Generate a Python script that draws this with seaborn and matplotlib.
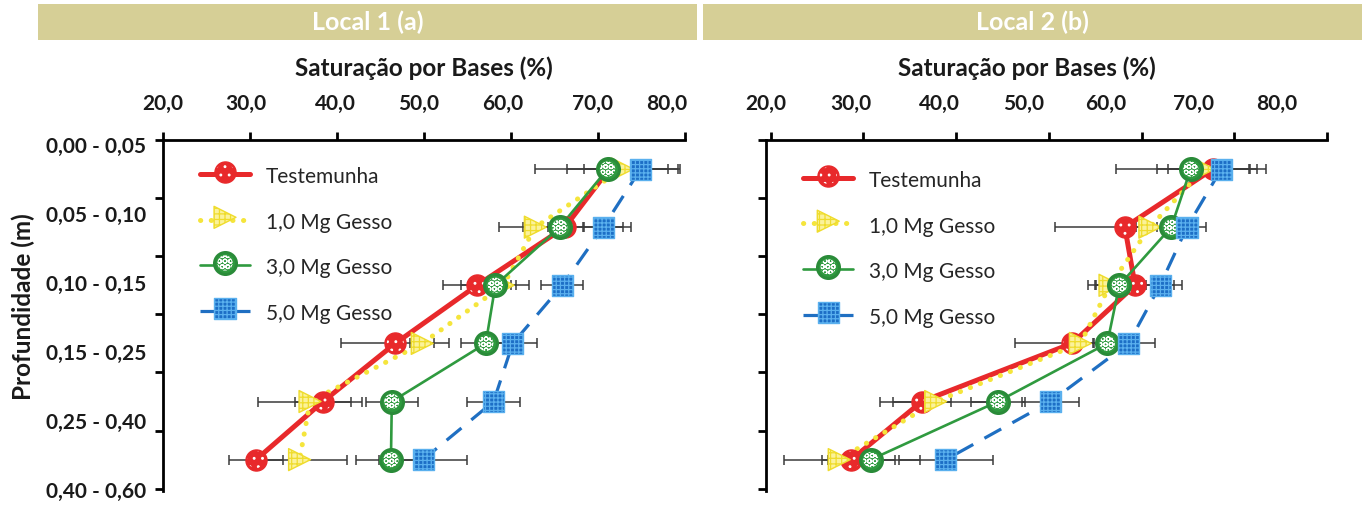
import matplotlib
matplotlib.use("Agg")
import matplotlib.pyplot as plt
from matplotlib.patches import Rectangle
from matplotlib.legend_handler import HandlerTuple
import seaborn as sns

# ---- data -------------------------------------------------------------
depth_labels = ["0,00 - 0,05", "0,05 - 0,10", "0,10 - 0,15",
                "0,15 - 0,25", "0,25 - 0,40", "0,40 - 0,60"]
series_names = ["Testemunha", "1,0 Mg Gesso", "3,0 Mg Gesso", "5,0 Mg Gesso"]
x_ticks = [20, 30, 40, 50, 60, 70, 80]
x_tick_labels = ["20,0", "30,0", "40,0", "50,0", "60,0", "70,0", "80,0"]
panel_titles = ["Local 1 (a)", "Local 2 (b)"]

# Local 1 - base saturation (%) per depth layer
local1_testemunha = [71.3, 66.2, 56.1, 46.7, 38.4, 30.7]
local1_gesso_1 = [72.8, 62.8, 59.1, 49.8, 36.9, 35.7]
local1_gesso_3 = [71.1, 65.6, 58.2, 57.1, 46.3, 46.2]
local1_gesso_5 = [74.9, 70.6, 65.9, 60.2, 58.0, 49.9]
local1_err_testemunha = [2.9, 7.6, 3.9, 6.2, 3.2, 3.1]
local1_err_gesso_1 = [6.4, 1.4, 1.5, 1.4, 6.0, 5.4]
local1_err_gesso_3 = [8.3, 2.8, 3.9, 2.9, 3.0, 4.0]
local1_err_gesso_5 = [3.1, 2.3, 2.4, 2.8, 3.0, 5.1]

# Local 2 - base saturation (%) per depth layer
local2_testemunha = [67.7, 58.2, 59.3, 52.5, 36.3, 28.7]
local2_gesso_1 = [66.7, 60.9, 56.6, 53.4, 37.8, 27.4]
local2_gesso_3 = [65.3, 63.2, 57.6, 56.3, 44.5, 30.8]
local2_gesso_5 = [68.6, 64.9, 62.0, 58.6, 50.2, 38.9]
local2_err_testemunha = [4.8, 7.5, 5.1, 6.1, 3.1, 2.5]
local2_err_gesso_1 = [5.0, 1.5, 1.5, 1.5, 6.0, 6.0]
local2_err_gesso_3 = [8.1, 1.5, 2.6, 1.5, 2.9, 5.3]
local2_err_gesso_5 = [3.0, 2.1, 1.5, 2.9, 3.1, 5.1]

panels = [
    ([local1_testemunha, local1_gesso_1, local1_gesso_3, local1_gesso_5],
     [local1_err_testemunha, local1_err_gesso_1, local1_err_gesso_3, local1_err_gesso_5]),
    ([local2_testemunha, local2_gesso_1, local2_gesso_3, local2_gesso_5],
     [local2_err_testemunha, local2_err_gesso_1, local2_err_gesso_3, local2_err_gesso_5]),
]

# ---- styling ----------------------------------------------------------
sns.set_theme(style="white")
FONT = ["Lato", "DejaVu Sans"]
plt.rcParams["font.family"] = FONT
plt.rcParams["hatch.linewidth"] = 0.9

TEXT = "#1a1a1a"
line_styles = [
    dict(color="#e8292b", lw=3.6, ls="-"),
    dict(color="#f5e53c", lw=3.6, ls=(0, (0.05, 2.1)), dash_capstyle="round"),
    dict(color="#2f9a3f", lw=1.9, ls="-"),
    dict(color="#1f6fc2", lw=2.3, ls=(0, (6, 4))),
]
marker_base = [
    dict(marker="o", s=230, facecolors="#e8292b", edgecolors="#e8292b", linewidths=1.0),
    dict(marker=">", s=250, facecolors="#fbf29a", edgecolors="#efdc2c", linewidths=1.0, hatch="+++"),
    dict(marker="o", s=250, facecolors="#2f9a3f", edgecolors="#2a8b39", linewidths=2.2),
    dict(marker="s", s=230, facecolors="#1d6fc6", edgecolors="#5ab0ee", linewidths=1.0, hatch="++++"),
]
marker_overlay = [
    dict(marker="o", s=150, facecolors="none", edgecolors="white", linewidths=0, hatch=".."),
    None,
    dict(marker="o", s=120, facecolors="none", edgecolors="white", linewidths=0, hatch="OOO"),
    None,
]

y_pos = [i + 0.5 for i in range(len(depth_labels))]
y_major = list(range(len(depth_labels) + 1))
y_label_pos = [0.08, 1.27, 2.46, 3.65, 4.84, 6.03]

W, H = 1365, 507
fig = plt.figure(figsize=(W / 100, H / 100), dpi=100)

axes_px = [(163, 685), (766, 1327)]
xlabel_pos = [[20, 29.5, 39.8, 49.4, 59.0, 69.4, 77.9],
              [19.5, 28.6, 38.2, 47.3, 56.1, 65.6, 74.6]]
title_x = [0.5, 0.465]
bars_px = [(38, 697), (703, 1362)]
legend_anchor = [(0.035, 0.983), (0.033, 0.972)]

top_px, bottom_px = 140, 491

for k, ((values, errs), (x0, x1)) in enumerate(zip(panels, axes_px)):
    ax = fig.add_axes([x0 / W, (H - bottom_px) / H, (x1 - x0) / W, (bottom_px - top_px) / H])

    handles = []
    for j, (vals, err) in enumerate(zip(values, errs)):
        ax.errorbar(vals, y_pos, xerr=err, fmt="none", ecolor="#3a3a3a",
                    elinewidth=1.1, capsize=3.5, capthick=1.1, zorder=2 + j * 0.1)
    for j, (vals, err) in enumerate(zip(values, errs)):
        st = line_styles[j]
        sns.lineplot(x=vals, y=y_pos, sort=False, estimator=None, ax=ax,
                     color=st["color"], linewidth=st["lw"], linestyle=st["ls"],
                     zorder=3 + j * 0.1, legend=False)
        line = ax.lines[-1]
        if "dash_capstyle" in st:
            line.set_dash_capstyle(st["dash_capstyle"])
        parts = [line]
        sc = ax.scatter(vals, y_pos, zorder=4 + j * 0.2, **marker_base[j])
        parts.append(sc)
        if marker_overlay[j] is not None:
            sc2 = ax.scatter(vals, y_pos, zorder=4.1 + j * 0.2, **marker_overlay[j])
            parts.append(sc2)
        handles.append(tuple(parts))

    ax.legend(handles, series_names, handler_map={tuple: HandlerTuple(ndivide=1, pad=0)},
              loc="upper left", bbox_to_anchor=legend_anchor[k], frameon=False,
              scatterpoints=1, scatteryoffsets=[0.5], handlelength=2.4,
              handleheight=1.3, handletextpad=0.75, labelspacing=1.1,
              prop=dict(family=FONT, size=15))

    # axes frame: top + left spines only
    ax.set_xlim(20, 80)
    ax.set_ylim(6.04, 0)
    for side in ["right", "bottom"]:
        ax.spines[side].set_visible(False)
    for side in ["top", "left"]:
        ax.spines[side].set_color("black")
        ax.spines[side].set_linewidth(2.0)

    ax.xaxis.remove_overlapping_locs = False
    ax.yaxis.remove_overlapping_locs = False
    ax.xaxis.tick_top()
    ax.set_xticks(x_ticks)
    ax.set_xticklabels([])
    ax.set_xticks(xlabel_pos[k], minor=True)
    ax.set_xticklabels(x_tick_labels, minor=True, fontweight="bold", fontsize=15)
    ax.tick_params(axis="x", which="major", direction="out", length=6, width=2,
                   color="black", top=True, bottom=False)
    ax.tick_params(axis="x", which="minor", length=0, pad=19, top=True, bottom=False,
                   labeltop=True, labelbottom=False, labelcolor=TEXT)

    ax.set_yticks(y_major)
    ax.set_yticklabels([])
    ax.tick_params(axis="y", which="major", direction="out", length=6, width=2,
                   color="black", left=True)
    if k == 0:
        ax.set_yticks(y_label_pos, minor=True)
        ax.set_yticklabels(depth_labels, minor=True, fontweight="bold", fontsize=15)
        ax.tick_params(axis="y", which="minor", length=0, pad=12, labelcolor=TEXT)
        ax.set_ylabel("Profundidade (m)", fontsize=17.5, fontweight="bold", color=TEXT)
        ax.yaxis.set_label_coords(-0.245, 0.524)
    else:
        ax.set_ylabel("")

    ax.xaxis.set_label_position("top")
    ax.set_xlabel("Saturação por Bases (%)", fontsize=17.5, fontweight="bold",
                  color=TEXT, labelpad=13)
    ax.xaxis.label.set_x(title_x[k])
    ax.grid(False)
    ax.set_facecolor("none")

    # panel header
    bx0, bx1 = bars_px[k]
    fig.patches.append(Rectangle((bx0 / W, (H - 40) / H), (bx1 - bx0) / W, 36 / H,
                                 transform=fig.transFigure, facecolor="#d6cf96",
                                 edgecolor="none", zorder=0))
    fig.text((bx0 + bx1) / 2 / W, (H - 22) / H, panel_titles[k], color="white",
             fontsize=18, fontweight="bold", ha="center", va="center")

fig.savefig("out.png", dpi=100, facecolor="white")
